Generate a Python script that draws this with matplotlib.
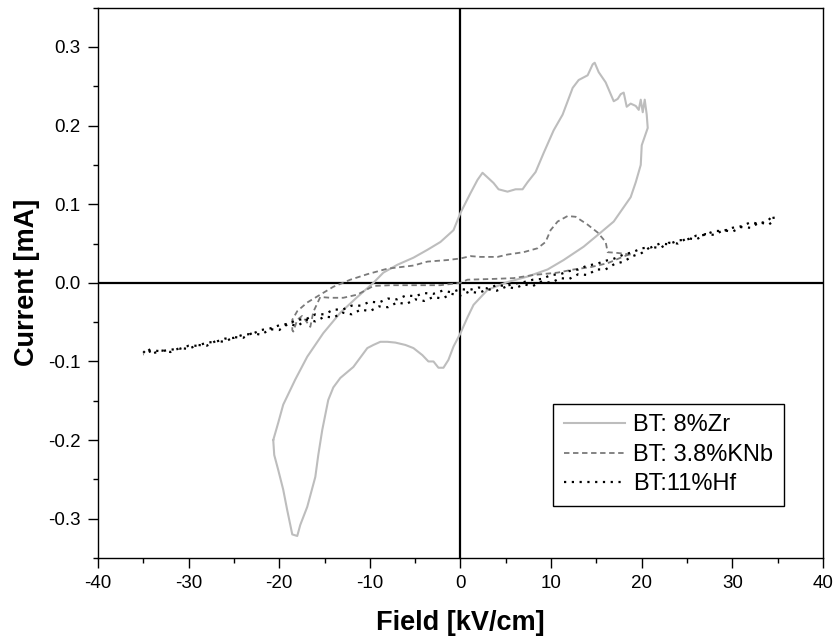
import matplotlib
matplotlib.use("Agg")
import matplotlib.pyplot as plt
from matplotlib.ticker import MultipleLocator, FormatStrFormatter

plt.rcParams['font.family'] = ['Liberation Sans', 'DejaVu Sans']

# ---- BT: 8%Zr (loop) ----
zr_field = [-20.66, -20.11, -19.56, -18.23, -16.91, -15.14, -13.26, -11.38, -9.61, -8.51,
            -6.96, -5.19, -3.65, -2.21, -0.77, 0.0, 1.10, 1.88, 2.43, 3.09,
            3.65, 4.20, 5.19, 6.08, 6.85, 7.40, 8.29, 9.17, 10.28, 11.27,
            12.38, 13.04, 14.03, 14.59, 14.81, 15.25, 16.02, 16.91, 17.35, 17.68,
            18.01, 18.34, 18.78, 19.34, 19.67, 19.89, 20.11, 20.33, 20.55, 20.66,
            20.0, 19.89, 19.34, 18.78, 16.91, 15.47, 13.59, 11.38, 9.61, 7.40,
            5.19, 2.98, 1.44, 0.77, 0.0, -0.77, -1.33, -1.88, -2.43, -2.98,
            -3.54, -4.20, -5.19, -6.08, -7.18, -8.07, -8.84, -9.61, -10.28, -11.82,
            -13.26, -14.03, -14.59, -15.25, -15.69, -16.02, -16.91, -17.68, -18.01, -18.56,
            -19.12, -19.56, -20.11, -20.55, -20.66]
zr_current = [-0.200, -0.178, -0.155, -0.123, -0.094, -0.064, -0.038, -0.018, 0.000, 0.013,
              0.023, 0.032, 0.042, 0.052, 0.067, 0.089, 0.114, 0.131, 0.140, 0.133,
              0.127, 0.119, 0.116, 0.119, 0.119, 0.128, 0.141, 0.165, 0.194, 0.214,
              0.248, 0.258, 0.264, 0.278, 0.280, 0.268, 0.255, 0.231, 0.234, 0.240,
              0.242, 0.224, 0.228, 0.225, 0.220, 0.233, 0.217, 0.233, 0.214, 0.197,
              0.175, 0.150, 0.128, 0.109, 0.078, 0.064, 0.046, 0.029, 0.017, 0.008,
              0.001, -0.009, -0.028, -0.044, -0.064, -0.081, -0.098, -0.108, -0.108, -0.100,
              -0.100, -0.092, -0.083, -0.079, -0.076, -0.075, -0.075, -0.079, -0.083, -0.107,
              -0.121, -0.133, -0.149, -0.187, -0.219, -0.247, -0.285, -0.308, -0.322, -0.320,
              -0.289, -0.263, -0.238, -0.219, -0.200]

# ---- BT: 3.8%KNb (loop) ----
knb_field = [18.78, 17.35, 16.24, 16.02, 15.14, 14.03, 12.71, 11.82, 10.72, 9.94,
             9.39, 8.51, 6.96, 5.19, 4.09, 2.21, 1.10, 0.0, -1.44, -3.65,
             -5.19, -6.63, -8.07, -10.28, -12.15, -14.03, -15.47, -16.91, -18.01, -18.56,
             -18.56, -18.45, -18.01, -17.46, -16.57, -16.24, -15.47, -14.36, -12.93, -11.38,
             -9.61, -7.73, -5.19, -2.21, 0.0, 0.77, 3.65, 5.86, 8.07, 10.72,
             12.49, 14.36, 16.24, 17.68, 18.78]
knb_current = [0.036, 0.038, 0.039, 0.052, 0.064, 0.074, 0.084, 0.085, 0.078, 0.067,
               0.052, 0.044, 0.039, 0.036, 0.033, 0.033, 0.034, 0.031, 0.029, 0.027,
               0.022, 0.020, 0.018, 0.011, 0.004, -0.005, -0.015, -0.025, -0.036, -0.047,
               -0.060, -0.062, -0.047, -0.042, -0.056, -0.037, -0.018, -0.019, -0.019, -0.015,
               -0.004, -0.003, -0.003, -0.003, 0.000, 0.004, 0.005, 0.006, 0.010, 0.013,
               0.017, 0.020, 0.025, 0.032, 0.037]

# ---- BT:11%Hf (narrow noisy loop) ----
hf_field = [-35.0, -34.5, -34.0, -33.0, -32.0, -31.0, -30.0, -29.0, -28.0, -27.0,
            -26.0, -25.0, -24.0, -23.0, -22.0, -21.0, -20.0, -19.0, -18.0, -17.0,
            -16.0, -15.0, -14.0, -13.0, -12.0, -11.0, -10.0, -9.0, -8.0, -7.0,
            -6.0, -5.0, -4.0, -3.0, -2.0, -1.0, 0.0, 1.0, 2.0, 3.0,
            4.0, 5.0, 6.0, 7.0, 8.0, 9.0, 10.0, 11.0, 12.0, 13.0,
            14.0, 15.0, 16.0, 17.0, 18.0, 19.0, 20.0, 21.0, 22.0, 23.0,
            24.0, 25.0, 26.0, 27.0, 28.0, 29.0, 30.0, 31.0, 32.0, 33.0,
            34.0, 34.6,
            34.5, 34.0, 33.0, 32.0, 31.0, 30.0, 29.0, 28.0, 27.0, 26.0,
            25.0, 24.0, 23.0, 22.0, 21.0, 20.0, 19.0, 18.0, 17.0, 16.0,
            15.0, 14.0, 13.0, 12.0, 11.0, 10.0, 9.0, 8.0, 7.0, 6.0,
            5.0, 4.0, 3.0, 2.0, 1.0, 0.0, -1.0, -2.0, -3.0, -4.0,
            -5.0, -6.0, -7.0, -8.0, -9.0, -10.0, -11.0, -12.0, -13.0, -14.0,
            -15.0, -16.0, -17.0, -18.0, -19.0, -20.0, -21.0, -22.0, -23.0, -24.0,
            -25.0, -26.0, -27.0, -28.0, -29.0, -30.0, -31.0, -32.0, -33.0, -34.0,
            -35.0]
hf_current = [-0.089, -0.083, -0.090, -0.086, -0.088, -0.083, -0.084, -0.079, -0.080, -0.074,
              -0.075, -0.069, -0.070, -0.064, -0.066, -0.059, -0.060, -0.052, -0.055, -0.047,
              -0.049, -0.043, -0.044, -0.038, -0.040, -0.034, -0.036, -0.030, -0.031, -0.025,
              -0.027, -0.021, -0.023, -0.018, -0.020, -0.014, -0.016, -0.011, -0.013, -0.008,
              -0.010, -0.005, -0.007, -0.002, -0.004, 0.002, 0.000, 0.006, 0.005, 0.011,
              0.010, 0.017, 0.017, 0.024, 0.027, 0.034, 0.038, 0.046, 0.044, 0.051,
              0.050, 0.057, 0.055, 0.062, 0.061, 0.067, 0.065, 0.071, 0.070, 0.077,
              0.074, 0.079,
              0.086, 0.080, 0.075, 0.077, 0.072, 0.070, 0.066, 0.066, 0.061, 0.060,
              0.055, 0.054, 0.049, 0.050, 0.045, 0.044, 0.039, 0.036, 0.031, 0.028,
              0.024, 0.022, 0.017, 0.015, 0.011, 0.010, 0.005, 0.004, 0.001, -0.001,
              -0.004, -0.003, -0.007, -0.006, -0.009, -0.008, -0.012, -0.010, -0.014, -0.013,
              -0.017, -0.016, -0.021, -0.020, -0.025, -0.024, -0.029, -0.029, -0.034, -0.034,
              -0.040, -0.040, -0.046, -0.047, -0.052, -0.054, -0.058, -0.060, -0.065, -0.066,
              -0.070, -0.071, -0.075, -0.076, -0.080, -0.080, -0.084, -0.085, -0.087, -0.086,
              -0.091]

labels = ["BT: 8%Zr", "BT: 3.8%KNb", "BT:11%Hf"]
x_ticks = [-40, -30, -20, -10, 0, 10, 20, 30, 40]
y_ticks = [-0.3, -0.2, -0.1, 0.0, 0.1, 0.2, 0.3]

fig = plt.figure(figsize=(8.38, 6.41), dpi=100)
ax = fig.add_axes([0.1169, 0.1295, 0.8652, 0.8585])

ax.axhline(0, color='black', lw=1.6, zorder=1)
ax.axvline(0, color='black', lw=1.6, zorder=1)

ax.plot(zr_field, zr_current, color='#bdbdbd', lw=1.5, label=labels[0], zorder=2)
ax.plot(knb_field, knb_current, color='#7a7a7a', lw=1.3,
        linestyle=(0, (3.0, 2.0)), label=labels[1], zorder=3)
ax.plot(hf_field, hf_current, color='black', lw=1.6,
        linestyle=(0, (1.0, 2.5)), label=labels[2], zorder=4)

ax.set_xlim(-40, 40)
ax.set_ylim(-0.35, 0.35)
ax.set_xticks(x_ticks)
ax.set_yticks(y_ticks)
ax.xaxis.set_minor_locator(MultipleLocator(5))
ax.yaxis.set_minor_locator(MultipleLocator(0.05))
ax.yaxis.set_major_formatter(FormatStrFormatter('%.1f'))
ax.xaxis.set_major_formatter(FormatStrFormatter('%d'))

for s in ax.spines.values():
    s.set_linewidth(1.0)

ax.tick_params(axis='both', which='major', direction='out', length=7.5, width=1.0,
               labelsize=13.5, top=False, right=False, pad=5)
ax.tick_params(axis='both', which='minor', direction='out', length=3.6, width=1.0,
               top=False, right=False)

ax.set_xlabel("Field [kV/cm]", fontsize=19.5, fontweight='bold', labelpad=13)
ax.set_ylabel("Current [mA]", fontsize=19.5, fontweight='bold', labelpad=6)

leg = ax.legend(loc='lower right', bbox_to_anchor=(0.946, 0.0945), fontsize=17,
                frameon=True, fancybox=False, edgecolor='black', framealpha=1,
                handlelength=2.6, handletextpad=0.35, borderpad=0.45, labelspacing=0.32,
                borderaxespad=0)
leg.get_frame().set_linewidth(1.0)

fig.savefig("out.png", dpi=100)
